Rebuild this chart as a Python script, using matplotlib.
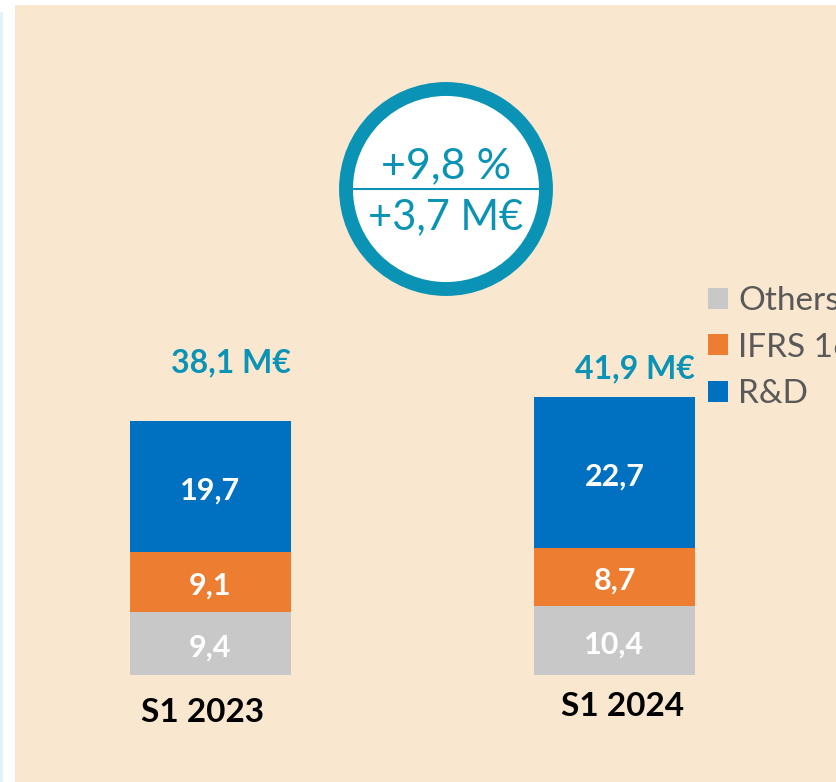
import matplotlib
matplotlib.use("Agg")
import matplotlib.pyplot as plt
from matplotlib.patches import Circle, Rectangle
import numpy as np

periods = ["S1 2023", "S1 2024"]
others = [9.4, 10.4]
ifrs16 = [9.1, 8.7]
rnd = [19.7, 22.7]
totals = ["38,1 M€", "41,9 M€"]
series_names = ["Others", "IFRS 16", "R&D"]
circle_lines = ["+9,8 %", "+3,7 M€"]

C_GRAY = "#C8C8C8"
C_ORANGE = "#ED7D31"
C_BLUE = "#0070C0"
C_TEAL = "#0A93B5"
C_BG = "#FAE7D0"
FONT = ["Lato", "DejaVu Sans"]

W, H = 836, 782
fig = plt.figure(figsize=(W / 100, H / 100), dpi=100)
fig.patch.set_facecolor("white")

# background overlay axes in pixel coords
bg = fig.add_axes([0, 0, 1, 1], zorder=0)
bg.set_xlim(0, W)
bg.set_ylim(H, 0)
bg.axis("off")
bg.add_patch(Rectangle((15, 5), W - 15, H - 5, facecolor=C_BG, edgecolor="none"))
bg.add_patch(Rectangle((0, 12), 3, H - 12, facecolor="#E3F2F8", edgecolor="none"))

# bar axes
px_per_unit = 6.66
bottom_px = 675
ymax = 60
ax = fig.add_axes([0, (H - bottom_px) / H, 1, ymax * px_per_unit / H], zorder=1)
ax.patch.set_alpha(0)
spacing = 404.0
ax.set_xlim(-210.5 / spacing, 1 + (W - 614.5) / spacing)
ax.set_ylim(0, ymax)
ax.axis("off")

x = np.arange(len(periods))
width = 161 / spacing
o = np.array(others)
f = np.array(ifrs16)
r = np.array(rnd)
b1 = ax.bar(x, o, width, color=C_GRAY, label=series_names[0])
b2 = ax.bar(x, f, width, bottom=o, color=C_ORANGE, label=series_names[1])
b3 = ax.bar(x, r, width, bottom=o + f, color=C_BLUE, label=series_names[2])

def fmt(v):
    return f"{v:.1f}".replace(".", ",")

dy = -0.6
for i in range(len(x)):
    for base, val in ((0, o[i]), (o[i], f[i]), (o[i] + f[i], r[i])):
        ax.text(x[i], base + val / 2 + dy, fmt(val), ha="center", va="center", color="white",
                fontsize=22, fontweight="bold", family=FONT)
    top = o[i] + f[i] + r[i]
    ax.text(x[i] + 0.05, top + 8.6 - i * 4.5, totals[i], ha="center", va="center", color=C_TEAL,
            fontsize=23, fontweight="bold", family=FONT)
    ax.text(x[i] - 0.02 * (1 - 2 * i), -5.7 + i * 0.9, periods[i], ha="center", va="center", color="black",
            fontsize=24, fontweight="bold", family=FONT)

# circle
cx, cy, rad = 446, 189, 100
bg.add_patch(Circle((cx, cy), rad, facecolor="white", edgecolor=C_TEAL, linewidth=10, zorder=2))
bg.plot([353, 542], [189, 189], color=C_TEAL, lw=1.5, zorder=3)
bg.text(cx, 166, circle_lines[0], ha="center", va="center", color=C_TEAL, fontsize=31, family=FONT, zorder=4)
bg.text(cx, 217, circle_lines[1], ha="center", va="center", color=C_TEAL, fontsize=30, family=FONT, zorder=4)

# legend
leg = fig.legend([b1, b2, b3], series_names, loc="upper left",
                 bbox_to_anchor=(708 / W, 1 - 286 / H), frameon=False,
                 borderpad=0, borderaxespad=0,
                 prop={"family": FONT, "size": 24}, labelcolor="#595959",
                 handlelength=0.6, handleheight=0.6, handletextpad=0.3,
                 labelspacing=0.5)

fig.savefig("out.png", dpi=100, facecolor=fig.get_facecolor())
